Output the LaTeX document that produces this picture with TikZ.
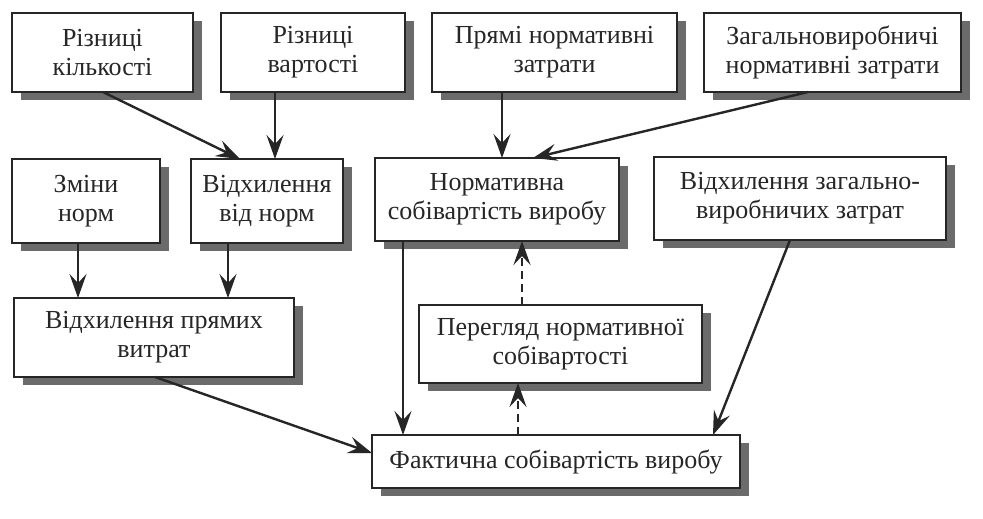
\documentclass[tikz,border=0pt]{standalone}
\usepackage{fontspec}
\setmainfont{Liberation Serif}
\usetikzlibrary{arrows.meta,shadows}
\begin{document}
\begin{tikzpicture}[x=1pt,y=-1pt,
  box/.style={draw=black!85, line width=2.6pt, fill=white, inner sep=0pt, outer sep=0pt,
    align=center, font=\fontsize{26}{29}\selectfont, text=black!85,
    drop shadow={shadow xshift=9pt, shadow yshift=-8pt, fill=black!58, opacity=1}},
  arr/.style={draw=black!85, line width=2.4pt, -{Stealth[length=24pt,width=17pt,inset=9pt]}},
  darr/.style={arr, dash pattern=on 8pt off 5pt}]
\useasboundingbox (0,0) rectangle (983,519);
\fill[white] (0,0) rectangle (983,519);
% row 1
\node[box, minimum width=181, minimum height=79] (A) at (102.5,52.5) {Різниці\\кількості};
\node[box, minimum width=184, minimum height=79] (B) at (313,52.5) {Різниці\\вартості};
\node[box, minimum width=245, minimum height=79] (C) at (554.5,52.5) {Прямі нормативні\\затрати};
\node[box, minimum width=257, minimum height=79] (D) at (832.5,52.5) {Загальновиробничі\\нормативні затрати};
% row 2
\node[box, minimum width=148, minimum height=84] (E) at (86,201) {Зміни\\норм};
\node[box, minimum width=152, minimum height=84] (F) at (267,201) {Відхилення\\від норм};
\node[box, minimum width=244, minimum height=83] (G) at (497,199.5) {Нормативна\\собівартість виробу};
\node[box, minimum width=292, minimum height=83] (H) at (800,198.5) {Відхилення загально-\\виробничих затрат};
% row 3
\node[box, minimum width=280, minimum height=79] (I) at (154,337.5) {Відхилення прямих\\витрат};
\node[box, minimum width=283, minimum height=78] (J) at (560.5,344) {Перегляд нормативної\\собівартості};
% row 4
\node[box, minimum width=368, minimum height=53] (K) at (556,461.5) {Фактична собівартість виробу};
% connectors
\draw[arr] ([xshift=91pt]A.south west) -- ([xshift=49pt]F.north west);
\draw[arr] ([xshift=54pt]B.south west) -- ([xshift=84pt]F.north west);
\draw[arr] ([xshift=70pt]C.south west) -- ([xshift=127pt]G.north west);
\draw[arr] ([xshift=104pt]D.south west) -- ([xshift=158pt]G.north west);
\draw[arr] ([xshift=66pt]E.south west) -- ([xshift=64pt]I.north west);
\draw[arr] ([xshift=37pt]F.south west) -- ([xshift=214pt]I.north west);
\draw[arr] ([xshift=28pt]G.south west) -- ([xshift=31pt]K.north west);
\draw[arr] ([xshift=141pt]I.south west) -- ([yshift=8.5pt]K.west);
\draw[arr] ([xshift=136pt]H.south west) -- ([xshift=341pt]K.north west);
\draw[darr] ([xshift=103pt]J.north west) -- ([xshift=147pt]G.south west);
\draw[darr] ([xshift=146pt]K.north west) -- ([xshift=99pt]J.south west);
\end{tikzpicture}
\end{document}
